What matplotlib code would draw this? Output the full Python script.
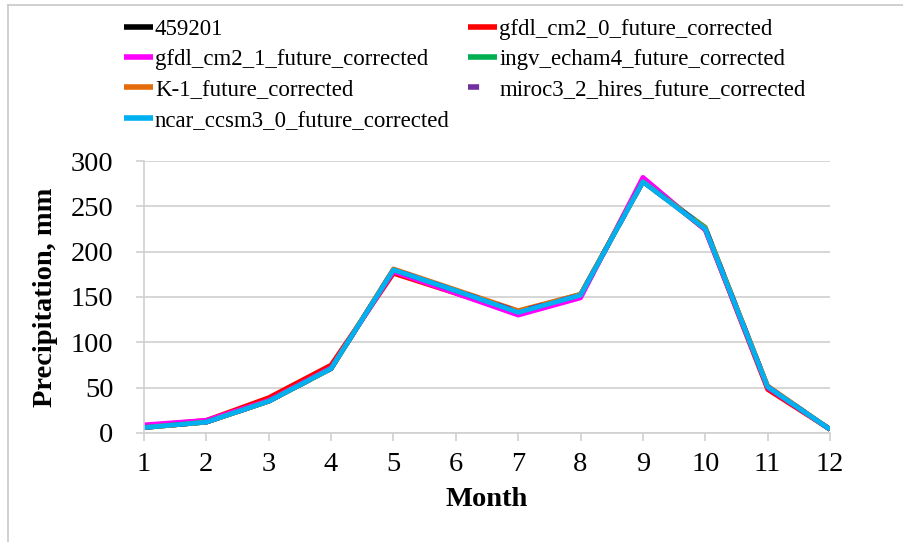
import matplotlib
matplotlib.use("Agg")
import matplotlib.pyplot as plt
from matplotlib.lines import Line2D

months = [1, 2, 3, 4, 5, 6, 7, 8, 9, 10, 11, 12]
obs_459201 = [6, 12, 35, 71, 180, 157, 134, 152, 278, 226, 51, 4]
gfdl_cm2_0 = [8, 14, 39, 75, 176, 154, 132, 151, 279, 224, 48, 4]
gfdl_cm2_1 = [9, 14, 36, 72, 178, 154, 130, 149, 282, 224, 50, 4]
ingv_echam4 = [6, 12, 35, 71, 180, 157, 134, 153, 277, 227, 51, 4]
k_1 = [6, 12, 35, 71, 181, 158, 135, 153, 277, 226, 52, 4]
miroc3_2_hires = [6, 12, 35, 71, 180, 157, 134, 152, 277, 226, 51, 4]
ncar_ccsm3_0 = [6, 12, 35, 71, 180, 157, 133, 152, 277, 225, 51, 4]

series = [
    ("459201", obs_459201, "#000000", "-"),
    ("gfdl_cm2_0_future_corrected", gfdl_cm2_0, "#FF0000", "-"),
    ("gfdl_cm2_1_future_corrected", gfdl_cm2_1, "#FF00FF", "-"),
    ("ingv_echam4_future_corrected", ingv_echam4, "#00B050", "-"),
    ("K-1_future_corrected", k_1, "#E46C0A", "-"),
    ("miroc3_2_hires_future_corrected", miroc3_2_hires, "#7030A0", (1.0, (3.0, 4.0))),
    ("ncar_ccsm3_0_future_corrected", ncar_ccsm3_0, "#00B0F0", "-"),
]
yticks = [0, 50, 100, 150, 200, 250, 300]

W, H = 904, 542
fig = plt.figure(figsize=(W / 100, H / 100), dpi=100)
plt.rcParams['font.family'] = ['Liberation Serif', 'DejaVu Serif']

# outer chart frame (left and top edges visible)
fig.add_artist(Line2D([8 / W, 8 / W], [0, 1 - 5 / H], color="#c8c8c8", lw=1.2))
fig.add_artist(Line2D([8 / W, 1], [1 - 5 / H, 1 - 5 / H], color="#c8c8c8", lw=1.2))

ax = fig.add_axes([144 / W, (H - 433) / H, 686 / W, 272 / H])
handles = []
for name, vals, col, ls in series:
    h, = ax.plot(months, vals, color=col, lw=3.4, ls=ls, solid_joinstyle="round",
                 solid_capstyle="butt", label=name)
    handles.append(h)

ax.set_xlim(1, 12)
ax.set_ylim(0, 300)
ax.set_xticks(months)
ax.set_yticks(yticks)
ax.yaxis.grid(True, color="#d0d0d0", lw=1.2)
ax.set_axisbelow(True)
for s in ["top", "right"]:
    ax.spines[s].set_visible(False)
for s in ["left", "bottom"]:
    ax.spines[s].set_color("#d0d0d0")
    ax.spines[s].set_linewidth(1.2)
ax.tick_params(axis="both", direction="out", length=6, width=1.2, color="#d0d0d0",
               labelsize=20.5, labelcolor="black")
ax.tick_params(axis="y", pad=16)
ax.tick_params(axis="x", pad=8)
ax.set_xlabel("Month", fontsize=20.5, fontweight="bold", labelpad=7)
ax.set_ylabel("Precipitation, mm", fontsize=20.5, fontweight="bold", labelpad=9)

order = [0, 2, 4, 6, 1, 3, 5]
leg = fig.legend(handles=[handles[i] for i in order], loc="upper left",
                 bbox_to_anchor=(124 / W, 1 - 19 / H),
                 ncol=2, frameon=False, fontsize=16.5, handlelength=1.25,
                 handletextpad=0.1, columnspacing=0.8, labelspacing=0.4,
                 borderaxespad=0, borderpad=0)
for lh in leg.get_lines():
    lh.set_linewidth(4)

fig.savefig("out.png", dpi=100)
